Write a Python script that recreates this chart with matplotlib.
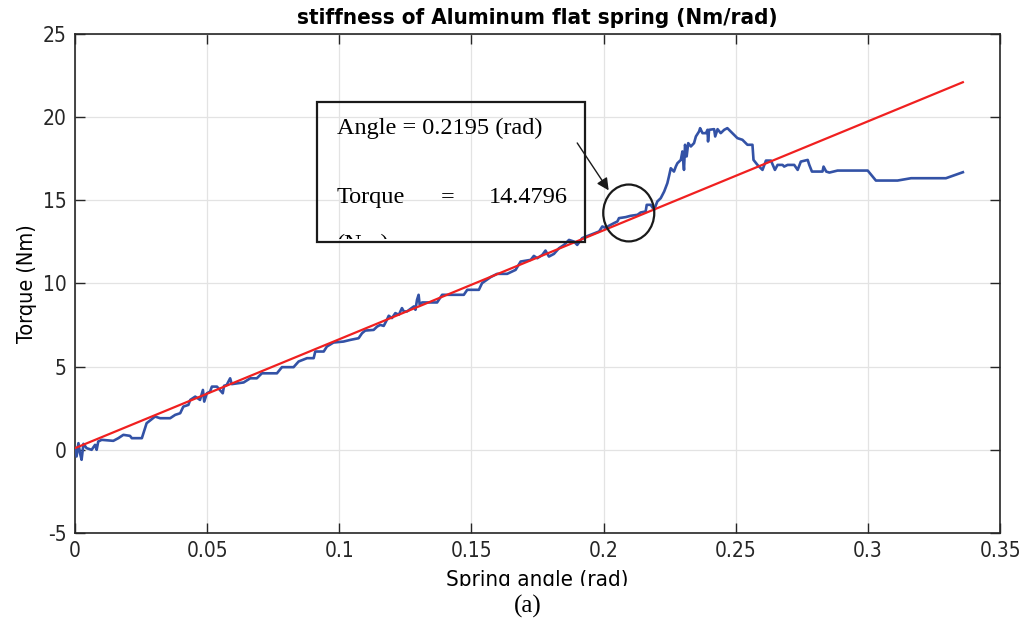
import numpy as np
import matplotlib
matplotlib.use("Agg")
import matplotlib.pyplot as plt
from matplotlib.patches import Rectangle, Ellipse
from matplotlib.transforms import Bbox, TransformedBbox

# measured spring angle (rad) and torque (Nm)
angle = [0, 0.0006, 0.0013, 0.0019, 0.0025, 0.0032, 0.0044, 0.0063, 0.0076, 0.0082,
         0.0088, 0.0101, 0.0145, 0.0164, 0.0183, 0.0208, 0.0215, 0.0253, 0.0271, 0.0303,
         0.0322, 0.0360, 0.0379, 0.0398, 0.0410, 0.0429, 0.0436, 0.0455, 0.0473, 0.0484,
         0.0489, 0.0499, 0.0511, 0.0518, 0.0537, 0.0559, 0.0564, 0.0574, 0.0587, 0.0593,
         0.0638, 0.0663, 0.0688, 0.0707, 0.0764, 0.0783, 0.0827, 0.0846, 0.0878, 0.0903,
         0.0909, 0.0941, 0.0953, 0.0978, 0.1016, 0.1042, 0.1073, 0.1086, 0.1098, 0.1130,
         0.1143, 0.1155, 0.1168, 0.1180, 0.1187, 0.1199, 0.1212, 0.1225, 0.1237, 0.1244,
         0.1256, 0.1282, 0.1288, 0.1294, 0.1300, 0.1304, 0.1313, 0.1370, 0.1389, 0.1471,
         0.1484, 0.1528, 0.1540, 0.1572, 0.1597, 0.1635, 0.1654, 0.1667, 0.1686, 0.1724,
         0.1736, 0.1749, 0.1768, 0.1780, 0.1793, 0.1812, 0.1831, 0.1850, 0.1869, 0.1888,
         0.1900, 0.1919, 0.1951, 0.1983, 0.1995, 0.2008, 0.2020, 0.2039, 0.2052, 0.2058,
         0.2083, 0.2102, 0.2128, 0.2140, 0.2159, 0.2163, 0.2178, 0.2191, 0.2203, 0.2216,
         0.2229, 0.2241, 0.2247, 0.2254, 0.2266, 0.2273, 0.2279, 0.2292, 0.2298, 0.2304,
         0.2308, 0.2314, 0.2320, 0.2330, 0.2342, 0.2349, 0.2361, 0.2365, 0.2374, 0.2387,
         0.2393, 0.2395, 0.2399, 0.2418, 0.2422, 0.2431, 0.2443, 0.2456, 0.2468, 0.2487,
         0.2506, 0.2525, 0.2544, 0.2563, 0.2567, 0.2582, 0.2601, 0.2614, 0.2633, 0.2648,
         0.2658, 0.2677, 0.2683, 0.2696, 0.2721, 0.2734, 0.2746, 0.2772, 0.2778, 0.2788,
         0.2828, 0.2832, 0.2842, 0.2854, 0.2885, 0.2999, 0.3030, 0.3112, 0.3163, 0.3295,
         0.3359]
torque = [0.10, -0.40, 0.40, -0.20, -0.60, 0.36, 0.10, 0.0, 0.30, 0.0,
          0.50, 0.60, 0.54, 0.70, 0.90, 0.84, 0.70, 0.70, 1.60, 2.00,
          1.90, 1.90, 2.10, 2.20, 2.60, 2.70, 3.00, 3.20, 3.00, 3.60,
          2.90, 3.40, 3.50, 3.80, 3.80, 3.40, 3.85, 3.90, 4.30, 3.95,
          4.05, 4.30, 4.30, 4.60, 4.60, 4.97, 4.97, 5.31, 5.51, 5.51,
          5.91, 5.91, 6.21, 6.45, 6.51, 6.61, 6.71, 7.01, 7.17, 7.21,
          7.41, 7.51, 7.45, 7.82, 8.06, 7.92, 8.22, 8.12, 8.52, 8.32,
          8.32, 8.62, 8.42, 9.02, 9.32, 8.72, 8.86, 8.86, 9.32, 9.32,
          9.62, 9.62, 10.02, 10.38, 10.58, 10.58, 10.72, 10.82, 11.32, 11.42,
          11.66, 11.52, 11.72, 11.98, 11.62, 11.78, 12.12, 12.32, 12.62, 12.52,
          12.32, 12.73, 12.93, 13.13, 13.43, 13.33, 13.47, 13.63, 13.73, 13.93,
          13.99, 14.07, 14.13, 14.27, 14.33, 14.73, 14.73, 14.43, 14.93, 15.13,
          15.53, 16.03, 16.43, 16.93, 16.73, 17.03, 17.23, 17.43, 17.94, 16.83,
          18.34, 17.64, 18.44, 18.24, 18.44, 18.84, 19.14, 19.34, 19.04, 19.04,
          19.24, 18.54, 19.24, 19.28, 18.84, 19.28, 19.04, 19.24, 19.34, 19.04,
          18.74, 18.64, 18.34, 18.34, 17.43, 17.13, 16.83, 17.39, 17.39, 16.83,
          17.13, 17.13, 17.03, 17.13, 17.13, 16.83, 17.33, 17.43, 17.13, 16.73,
          16.73, 17.03, 16.73, 16.67, 16.79, 16.79, 16.19, 16.19, 16.33, 16.33,
          16.69]

# linear fit used for the stiffness
fit_slope = 65.5
fit_offset = 0.1
fit_range = [0, 0.3359]

pick_angle = 0.2195
pick_torque = 14.4796

xticks = [0, 0.05, 0.1, 0.15, 0.2, 0.25, 0.3, 0.35]
yticks = [-5, 0, 5, 10, 15, 20, 25]

serif = ['Liberation Serif', 'DejaVu Serif']
plt.rcParams['font.family'] = ['DejaVu Sans']
plt.rcParams['font.stretch'] = 'condensed'
plt.rcParams['axes.unicode_minus'] = False

fig = plt.figure(figsize=(10.30, 6.23), dpi=100)
ax = fig.add_axes([0.0728, 0.1445, 0.8982, 0.8009])

ax.grid(True, color='#e3e3e3', linewidth=0.9)
ax.set_axisbelow(True)

fx = np.array(fit_range)
ax.plot(angle, torque, color='#3352a6', linewidth=1.9, zorder=3)
ax.plot(fx, fit_slope * fx + fit_offset, color='#f02020', linewidth=1.6, zorder=4)

ax.set_xlim(0, 0.35)
ax.set_ylim(-5, 25)
ax.set_xticks(xticks)
ax.set_xticklabels(['0', '0.05', '0.1', '0.15', '0.2', '0.25', '0.3', '0.35'])
ax.set_yticks(yticks)
ax.tick_params(direction='in', length=7, width=1.0, colors='#262626',
               labelsize=15, top=True, right=True, pad=6)
for s in ax.spines.values():
    s.set_linewidth(1.2)
    s.set_color('#262626')

ax.set_title('stiffness of Aluminum flat spring (Nm/rad)', fontsize=16,
             fontweight='bold', pad=7)
ax.set_ylabel('Torque (Nm)', fontsize=15.5, labelpad=4)
xl = ax.set_xlabel('Spring angle (rad)', fontsize=16, labelpad=6)

# bottom of the axis label is cut off
xl.set_clip_box(TransformedBbox(Bbox([[0, 37 / 623], [1, 0.14]]), fig.transFigure))

# data tip box
box_x0, box_y0, box_w, box_h = 0.0915, 12.52, 0.1013, 8.41
box = Rectangle((box_x0, box_y0), box_w, box_h, fill=False,
                edgecolor='#1a1a1a', linewidth=1.6, zorder=6)
ax.add_patch(box)
tip = dict(family=serif, fontsize=17.5, va='center', zorder=7)
ax.text(0.0990, 19.35, 'Angle = %.4f (rad)' % pick_angle, **tip)
ax.text(0.0990, 15.15, 'Torque', **tip)
ax.text(0.1409, 15.15, '=', ha='center', **tip)
ax.text(0.1565, 15.15, '%.4f' % pick_torque, **tip)
nm = ax.text(0.0990, 12.35, '(Nm)', clip_on=True, **tip)
nm.set_clip_box(TransformedBbox(
    Bbox([[box_x0, box_y0 + 0.15], [box_x0 + box_w, box_y0 + box_h]]), ax.transData))

ax.add_patch(Ellipse((0.2095, 14.24), 0.0193, 3.42, fill=False,
                     edgecolor='#1a1a1a', linewidth=1.6, zorder=6))
ax.annotate('', xy=(0.2019, 15.6), xytext=(0.1900, 18.45),
            arrowprops=dict(arrowstyle='-|>', color='#1a1a1a', lw=1.0,
                            mutation_scale=18, shrinkA=0, shrinkB=0), zorder=7)

fig.text(0.512, 1 - 606 / 623, '(a)', family=serif, fontsize=18,
         ha='center', va='center')

fig.savefig('out.png', dpi=100)
